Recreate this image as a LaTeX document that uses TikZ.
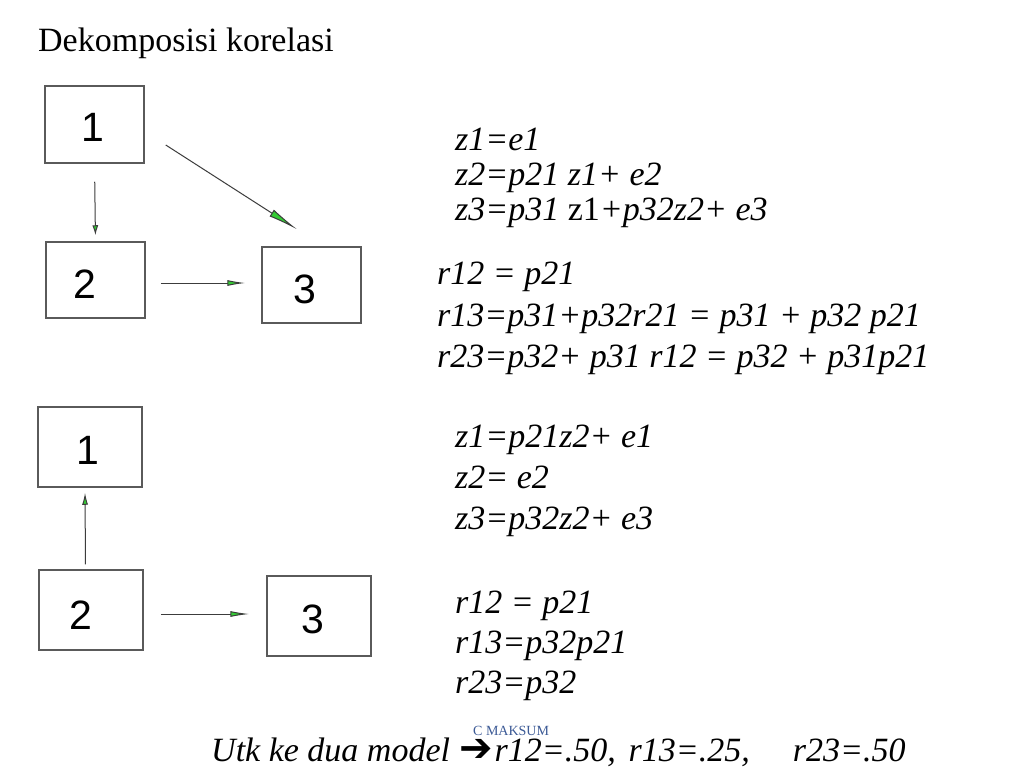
\documentclass[tikz,border=0pt]{standalone}
\usepackage{fontspec}
\setmainfont{Liberation Serif}
\newfontfamily\digitfont{Liberation Sans}
\newfontfamily\arrowfont{DejaVu Sans}
\usetikzlibrary{arrows.meta}
\definecolor{boxline}{HTML}{5A5A5A}
\definecolor{arrline}{HTML}{3C3C3C}
\definecolor{headfill}{HTML}{33CC33}
\definecolor{mark}{HTML}{3C5A96}
\tikzset{
  box/.style={draw=boxline, line width=1.5pt, minimum width=#1, inner sep=0pt},
  digit/.style={font=\digitfont\fontsize{41}{41}\selectfont, inner sep=0pt},
  conn/.style={draw=arrline, line width=1pt},
  eq/.style={anchor=base west, inner sep=0pt, font=\itshape\fontsize{34}{34}\selectfont},
}
\begin{document}
\begin{tikzpicture}[x=1pt, y=-1pt]
\useasboundingbox[fill=white] (0,0) rectangle (1024,768);
% title
\node[anchor=base west, inner sep=0pt, font=\fontsize{34}{34}\selectfont] (title) at (38,52) {Dekomposisi korelasi};
% upper model
\node[box=99pt, minimum height=77pt, label={[digit, xshift=-2pt, yshift=-3pt]center:1}] (b1) at (94.5,124.5) {};
\node[box=99pt, minimum height=76pt, label={[digit, xshift=-10.5pt, yshift=-4pt]center:2}] (b2) at (95.5,280) {};
\node[box=99pt, minimum height=76pt, label={[digit, xshift=-6.5pt, yshift=-4pt]center:3}] (b3) at (311.5,285) {};
\draw[conn, -{Latex[length=10pt, width=6pt, fill=headfill]}, shorten <=18pt, shorten >=6pt] (b1.south) -- (b2.north);
\draw[conn, -{Latex[length=18pt, width=6pt, fill=headfill]}, shorten <=15pt, shorten >=16pt] ([yshift=-3pt]b2.east) -- ([yshift=2pt]b3.west);
\draw[conn, -{Latex[length=30pt, width=8pt, fill=headfill]}] ([xshift=21pt, yshift=-20.5pt]b1.east) -- ([xshift=-14.5pt, yshift=17pt]b3.north);
% upper equations
\node[eq] (u1) at (455,150) {z1=e1};
\node[eq] (u2) at (455,185) {z2=p21 z1+ e2};
\node[eq] (u3) at (455,220) {z3=p31 \upshape z1\itshape+p32z2+ e3};
\node[eq] (u4) at (437,284) {r12 = p21};
\node[eq] (u5) at (437,326) {r13=p31+p32r21 = p31 + p32 p21};
\node[eq] (u6) at (437,367) {r23=p32+ p31 r12 = p32 + p31p21};
% lower model
\node[box=104pt, minimum height=80pt, label={[digit, xshift=-2.5pt, yshift=-3pt]center:1}] (c1) at (90,447) {};
\node[box=104pt, minimum height=80pt, label={[digit, xshift=-10.5pt, yshift=-5pt]center:2}] (c2) at (91,610) {};
\node[box=104pt, minimum height=80pt, label={[digit, xshift=-6.5pt, yshift=-3pt]center:3}] (c3) at (319,616) {};
\draw[conn, -{Latex[length=12pt, width=6pt, fill=headfill]}, shorten <=5pt, shorten >=5pt] ([xshift=-5.5pt]c2.north) -- ([xshift=-5pt]c1.south);
\draw[conn, -{Latex[length=19pt, width=6pt, fill=headfill]}, shorten <=17pt, shorten >=17pt] ([yshift=-4pt]c2.east) -- ([yshift=2pt]c3.west);
% lower equations
\node[eq] (l1) at (455,447) {z1=p21z2+ e1};
\node[eq] (l2) at (455,488) {z2= e2};
\node[eq] (l3) at (455,529) {z3=p32z2+ e3};
\node[eq] (l4) at (455,613) {r12 = p21};
\node[eq] (l5) at (455,653) {r13=p32p21};
\node[eq] (l6) at (455,693) {r23=p32};
% footer
\node[anchor=base west, inner sep=0pt, text=mark, font=\fontsize{14}{14}\selectfont] (cm) at (473,735) {C MAKSUM};
\node[eq] (foot) at (211,761) {Utk ke dua model\hspace{9pt}{\upshape\arrowfont\fontsize{40}{40}\selectfont ➔}\hspace{2pt}r12=.50,\hspace{13pt}r13=.25,\hspace{43pt}r23=.50};
\end{tikzpicture}
\end{document}
